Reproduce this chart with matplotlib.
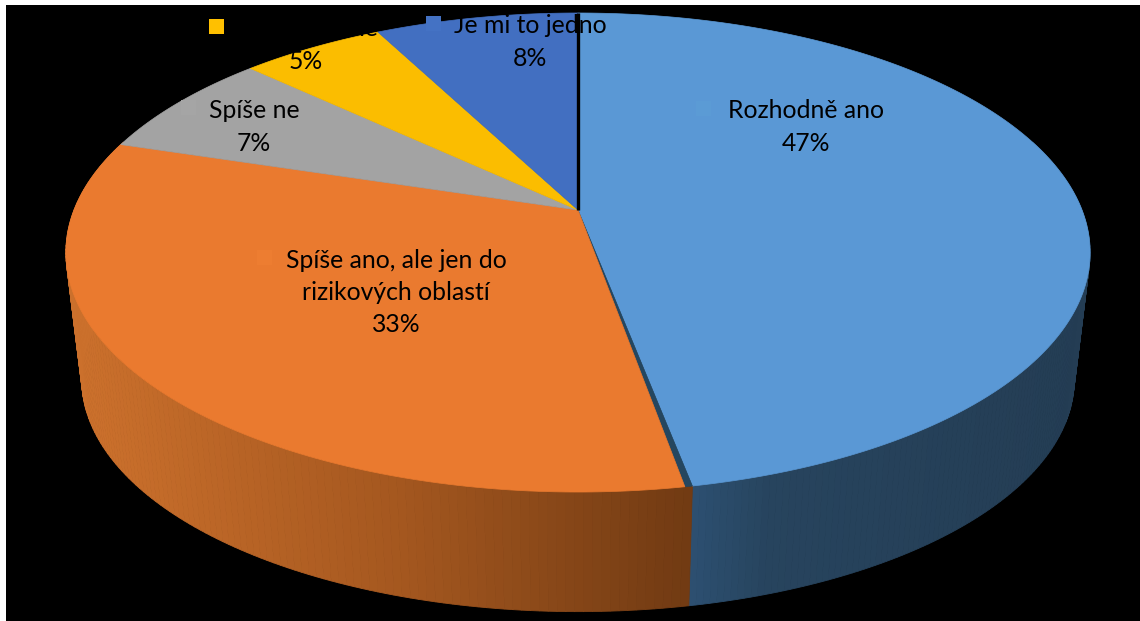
import numpy as np
import matplotlib
matplotlib.use("Agg")
import matplotlib.pyplot as plt
from matplotlib.colors import to_rgb
from matplotlib.patches import Polygon, Rectangle

categories = ["Rozhodně ano", "Spíše ano, ale jen do\nrizikových oblastí", "Spíše ne", "Rozhodně ne", "Je mi to jedno"]
shares = [47.0, 32.8, 7.2, 5.4, 7.6]
percent_labels = ["47%", "33%", "7%", "5%", "8%"]
key_colors = ["#5b9bd5", "#ed7d31", "#a5a5a5", "#ffc000", "#4472c4"]
slice_colors = ["#5a98d5", "#ea7a2f", "#a3a3a3", "#fbbd00", "#426fc1"]

# perspective of the tilted disc, in picture pixels
cx, cy = 578, 210
k = 504
a, c = -194.7, 0.1775
nadir_y = 4350
depth = 0.969


def top_xy(frac):
    ang = 2 * np.pi * np.asarray(frac)
    u, v = np.sin(ang), np.cos(ang)
    w = 1 + c * v
    return cx + k * u / w, (a * v + cy) / w


def bottom_xy(frac):
    x, y = top_xy(frac)
    return cx + (x - cx) * depth, nadir_y - (nadir_y - y) * depth


def wedge(frac0, frac1):
    t = np.linspace(frac0, frac1, 200)
    x, y = top_xy(t)
    return np.column_stack([np.r_[cx, x], np.r_[cy, y]])


def wall_shade(xmid, x_stops, hex_stops):
    rgb = np.array([to_rgb(h) for h in hex_stops])
    return [np.interp(xmid, x_stops, rgb[:, j]) for j in range(3)]


fig = plt.figure(figsize=(11.4, 6.21), dpi=100, facecolor="white")
ax = fig.add_axes([0, 0, 1, 1])
ax.set_xlim(0, 1140)
ax.set_ylim(621, 0)
ax.axis("off")
ax.add_patch(Rectangle((6, 5), 1134, 616, color="black", lw=0))

ends = np.cumsum(shares) / 100
starts = np.r_[0, ends[:-1]]

# side wall, shaded left to right
gap = 0.002
walls = [
    (0.20, ends[0], [690, 770, 1090], ["#2d5072", "#27445e", "#243d54"]),
    (ends[0], 0.80, [80, 400, 685], ["#cb702c", "#a4571f", "#723b13"]),
]
for f0, f1, x_stops, hex_stops in walls:
    t = np.linspace(f0, f1, 140)
    for i in range(len(t) - 1):
        x0, y0 = top_xy(t[i:i + 2])
        x1, y1 = bottom_xy(t[i:i + 2])
        shade = wall_shade(x0.mean(), x_stops, hex_stops)
        ax.add_patch(Polygon(np.column_stack([np.r_[x0, x1[::-1]], np.r_[y0, y1[::-1]]]),
                             facecolor=shade, edgecolor=shade, lw=0.6))

# top of the pie
for i, (f0, f1, col) in enumerate(zip(starts, ends, slice_colors)):
    if i == 1:
        ax.add_patch(Polygon(wedge(f0, f0 + gap), facecolor="#25465f", edgecolor="#25465f", lw=0.5))
        f0 = f0 + gap
    ax.add_patch(Polygon(wedge(f0, f1), facecolor=col, edgecolor=col, lw=0.5))

ax.plot([cx, cx], [top_xy(0)[1], cy], color="black", lw=2.4, solid_capstyle="butt")

# data labels with their legend keys
label_xy = [(806, 127), (396, 292.5), (254, 127), (306, 45), (530, 42)]
key_xy = [(703, 108), (264.5, 257.5), (188.5, 107.5), (216.5, 26.5), (433.5, 23.5)]
for name, pct, (lx, ly), (kx, ky), col in zip(categories, percent_labels, label_xy, key_xy, key_colors):
    ax.text(lx, ly, name + "\n" + pct, ha="center", va="center", fontsize=17.8,
            family="Lato", color="black", linespacing=1.49)
    ax.add_patch(Rectangle((kx - 7.5, ky - 7.5), 15, 15, facecolor=col, lw=0))

fig.savefig("out.png", dpi=100)
